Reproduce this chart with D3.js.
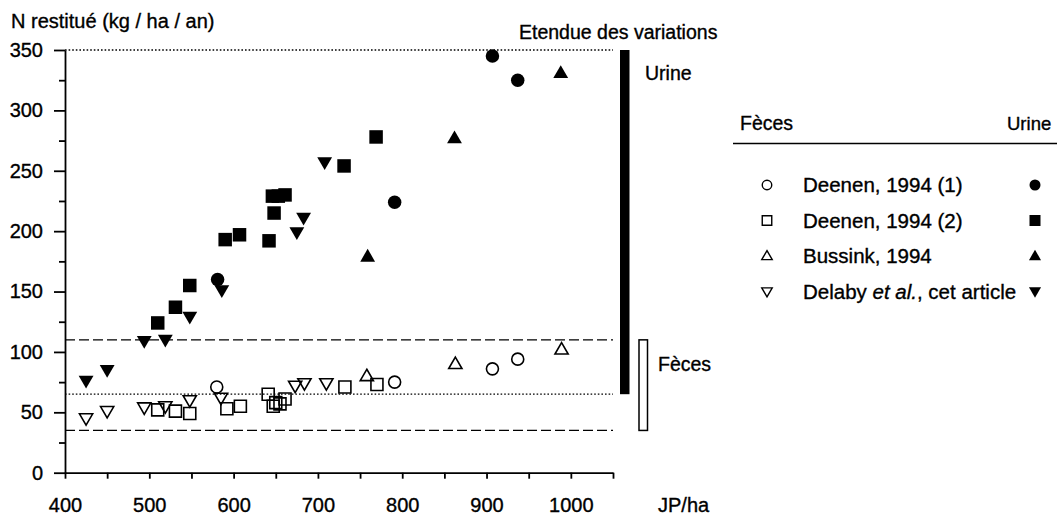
<!DOCTYPE html>
<html>
<head>
<meta charset="utf-8">
<script src="https://cdn.jsdelivr.net/npm/d3@7"></script>
<style>
body { margin: 0; background: #fff; }
text { font-family: "Liberation Sans", Arial, Helvetica, sans-serif; fill: #000; stroke: #000; stroke-width: 0.35; }
.axis path, .axis line { stroke: #000; stroke-width: 1.8; }
</style>
</head>
<body>
<div id="chart"></div>
<script>
// tick values
var xMajor = [400, 500, 600, 700, 800, 900, 1000];
var xMinor = [450, 550, 650, 750, 850, 950, 1050];
var yMajor = [0, 50, 100, 150, 200, 250, 300, 350];
var yMinor = [25, 75, 125, 175, 225, 275, 325];

// [JP/ha, N kg/ha/an]
var deenen1Feces = [[580, 71], [791, 75], [907, 86], [937, 94]];
var deenen1Urine = [[581, 160], [791, 224], [907, 345], [937, 325]];
var deenen2Feces = [[510, 52], [531, 51], [548, 49], [592, 53], [608, 55], [641, 65], [647, 55], [650, 58], [655, 57], [661, 61], [732, 71], [770, 73]];
var deenen2Urine = [[510, 124], [531, 137], [548, 155], [590, 193], [607, 197], [642, 192], [646, 229], [648, 215], [653, 229], [661, 230], [731, 254], [769, 278]];
var bussinkFeces = [[758, 80], [863, 90], [989, 102]];
var bussinkUrine = [[759, 179], [862, 277], [988, 331]];
var delabyFeces = [[425, 45], [450, 51], [494, 54], [519, 55], [548, 60], [585, 62], [673, 72], [684, 74], [710, 74]];
var delabyUrine = [[425, 76], [450, 85], [494, 109], [519, 110], [548, 129], [586, 151], [675, 199], [683, 211], [708, 257]];

// reference levels
var dottedLevels = [350, 65];
var dashedLevels = [110, 35];
var urineRange = [65, 350];
var fecesRange = [35, 110];

var legendNames = ["Deenen, 1994 (1)", "Deenen, 1994 (2)", "Bussink, 1994", "Delaby"];
var legendShapes = ["circle", "square", "up", "down"];

var width = 1057, height = 516;

var svg = d3.select("#chart").append("svg")
    .attr("width", width)
    .attr("height", height);

var x = d3.scaleLinear().domain([400, 1050]).range([65, 613]);
var y = d3.scaleLinear().domain([0, 350]).range([472.7, 50]);

function shapePath(shape, s) {
    if (shape == "circle") return d3.symbol(d3.symbolCircle, Math.PI * s * s / 4)();
    if (shape == "square") return d3.symbol(d3.symbolSquare, s * s)();
    var w = s * 1.1, h = s * 0.95;
    if (shape == "up") return "M0," + (-h * 0.6) + "L" + (w / 2) + "," + (h * 0.4) + "L" + (-w / 2) + "," + (h * 0.4) + "Z";
    return "M0," + (h * 0.6) + "L" + (w / 2) + "," + (-h * 0.4) + "L" + (-w / 2) + "," + (-h * 0.4) + "Z";
}

// reference lines
svg.selectAll(".dotted")
    .data(dottedLevels)
    .enter().append("line")
    .attr("x1", x(400)).attr("x2", x(1050))
    .attr("y1", function(d){ return y(d); })
    .attr("y2", function(d){ return y(d); })
    .attr("stroke", "#000")
    .attr("stroke-width", 1.3)
    .attr("stroke-dasharray", "1.6,2");

svg.selectAll(".dashed")
    .data(dashedLevels)
    .enter().append("line")
    .attr("x1", x(400)).attr("x2", x(1050))
    .attr("y1", function(d){ return y(d); })
    .attr("y2", function(d){ return y(d); })
    .attr("stroke", "#000")
    .attr("stroke-width", 1.3)
    .attr("stroke-dasharray", "10,4");

// axes
var yAxis = svg.append("g")
    .attr("class", "axis")
    .attr("transform", "translate(" + x(400) + ",0)")
    .call(d3.axisLeft(y).tickValues(yMajor).tickSize(11).tickSizeOuter(0));
yAxis.selectAll("text")
    .attr("x", -22)
    .style("font-size", "20px");

svg.append("g")
    .attr("class", "axis")
    .attr("transform", "translate(" + x(400) + ",0)")
    .call(d3.axisLeft(y).tickValues(yMinor).tickSize(6).tickFormat(""))
    .select(".domain").remove();

var xAxis = svg.append("g")
    .attr("class", "axis")
    .attr("transform", "translate(0," + y(0) + ")")
    .call(d3.axisBottom(x).tickValues(xMajor).tickSize(6).tickSizeOuter(0).tickFormat(d3.format("d")));
xAxis.selectAll("text")
    .attr("y", 39)
    .attr("dy", 0)
    .style("font-size", "20px");

svg.append("g")
    .attr("class", "axis")
    .attr("transform", "translate(0," + y(0) + ")")
    .call(d3.axisBottom(x).tickValues(xMinor).tickSize(6).tickFormat(""))
    .select(".domain").remove();

svg.append("text")
    .attr("x", 658).attr("y", 511.5)
    .style("font-size", "20px")
    .text("JP/ha");

svg.append("text")
    .attr("x", 11).attr("y", 28)
    .style("font-size", "20px")
    .text("N restitué (kg / ha / an)");

// variation ranges
svg.append("rect")
    .attr("x", 620).attr("width", 9.5)
    .attr("y", y(urineRange[1]))
    .attr("height", y(urineRange[0]) - y(urineRange[1]))
    .attr("fill", "#000");

svg.append("rect")
    .attr("x", 639).attr("width", 8.5)
    .attr("y", y(fecesRange[1]))
    .attr("height", y(fecesRange[0]) - y(fecesRange[1]))
    .attr("fill", "#fff")
    .attr("stroke", "#000")
    .attr("stroke-width", 1.5);

svg.append("text")
    .attr("x", 519).attr("y", 39)
    .style("font-size", "19.5px")
    .text("Etendue des variations");

svg.append("text")
    .attr("x", 645).attr("y", 80)
    .style("font-size", "19.5px")
    .text("Urine");

svg.append("text")
    .attr("x", 658).attr("y", 371)
    .style("font-size", "19.5px")
    .text("Fèces");

// points
var series = [
    {pts: deenen1Feces, shape: "circle", filled: false},
    {pts: deenen2Feces, shape: "square", filled: false},
    {pts: bussinkFeces, shape: "up", filled: false},
    {pts: delabyFeces, shape: "down", filled: false},
    {pts: deenen1Urine, shape: "circle", filled: true},
    {pts: deenen2Urine, shape: "square", filled: true},
    {pts: bussinkUrine, shape: "up", filled: true},
    {pts: delabyUrine, shape: "down", filled: true}
];

series.forEach(function(s) {
    svg.append("g").selectAll("path")
        .data(s.pts)
        .enter().append("path")
        .attr("transform", function(d){ return "translate(" + x(d[0]) + "," + y(d[1]) + ")"; })
        .attr("d", shapePath(s.shape, s.filled ? 13.5 : 12))
        .attr("fill", s.filled ? "#000" : "none")
        .attr("stroke", "#000")
        .attr("stroke-width", s.filled ? 0 : 1.6);
});

// legend
svg.append("text").attr("x", 740).attr("y", 130).style("font-size", "19.5px").text("Fèces");
svg.append("text").attr("x", 1007).attr("y", 130).style("font-size", "18.5px").text("Urine");
svg.append("line")
    .attr("x1", 733).attr("x2", 1057)
    .attr("y1", 143.5).attr("y2", 143.5)
    .attr("stroke", "#000").attr("stroke-width", 1.5);

var rows = svg.append("g").selectAll("g")
    .data(legendNames)
    .enter().append("g")
    .attr("transform", function(d, i){ return "translate(0," + (192 + i * 35.5) + ")"; });

rows.append("path")
    .attr("transform", "translate(767,-7)")
    .attr("d", function(d, i){ return shapePath(legendShapes[i], 9.5); })
    .attr("fill", "none").attr("stroke", "#000").attr("stroke-width", 1.4);

rows.append("path")
    .attr("transform", "translate(1035,-7)")
    .attr("d", function(d, i){ return shapePath(legendShapes[i], 11); })
    .attr("fill", "#000");

var lt = rows.append("text")
    .attr("x", 803)
    .style("font-size", "20.5px");
lt.append("tspan").text(function(d){ return d; });
lt.filter(function(d, i){ return i == 3; }).append("tspan").text(" ");
lt.filter(function(d, i){ return i == 3; }).append("tspan").style("font-style", "italic").text("et al.");
lt.filter(function(d, i){ return i == 3; }).append("tspan").text(", cet article");
</script>
</body>
</html>
